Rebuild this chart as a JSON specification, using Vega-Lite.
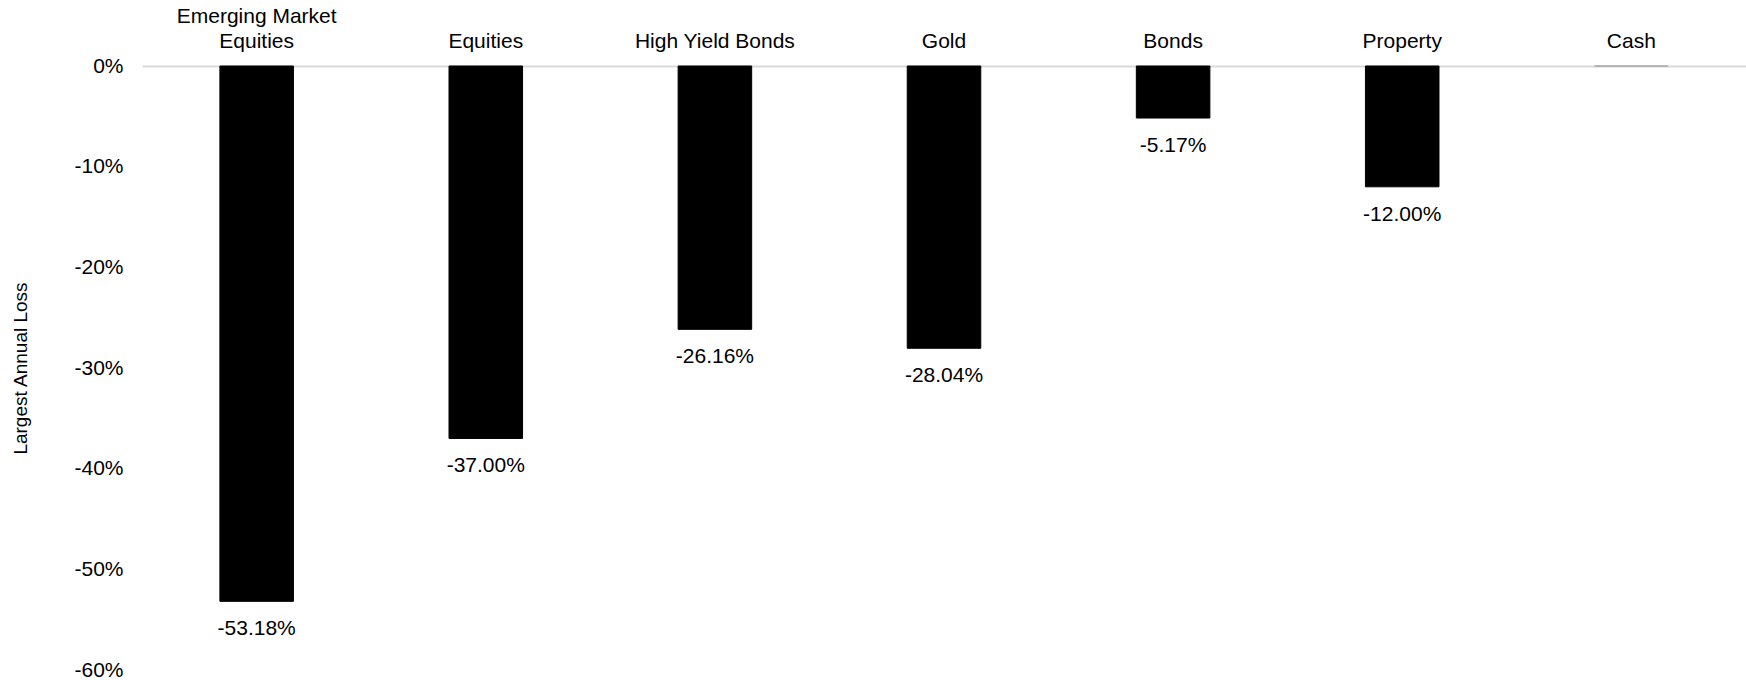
{
  "$schema": "https://vega.github.io/schema/vega-lite/v6.json",
  "autosize": {"type": "none"},
  "padding": {"left": 142, "top": 66, "right": 0, "bottom": 10},
  "width": 1604,
  "height": 604,
  "background": "white",
  "config": {
    "view": {"stroke": null},
    "font": "Liberation Sans",
    "locale": {"number": {"decimal": ".", "thousands": ",", "grouping": [3], "currency": ["$", ""], "minus": "-"}},
    "axis": {"labelFont": "Liberation Sans", "titleFont": "Liberation Sans", "labelColor": "#000000", "titleColor": "#000000"}
  },
  "data": {
    "values": [
      {"asset": "Emerging Market Equities", "loss": -0.5318},
      {"asset": "Equities", "loss": -0.37},
      {"asset": "High Yield Bonds", "loss": -0.2616},
      {"asset": "Gold", "loss": -0.2804},
      {"asset": "Bonds", "loss": -0.0517},
      {"asset": "Property", "loss": -0.12},
      {"asset": "Cash", "loss": 0}
    ]
  },
  "encoding": {
    "x": {
      "field": "asset",
      "type": "nominal",
      "sort": null,
      "scale": {"paddingInner": 0.679, "paddingOuter": 0.34},
      "axis": {
        "orient": "top",
        "title": null,
        "ticks": false,
        "domainColor": "#d9d9d9",
        "domainWidth": 2,
        "labelAngle": 0,
        "labelFontSize": 21,
        "labelPadding": 40,
        "labelLineHeight": 25,
        "labelExpr": "datum.label == 'Emerging Market Equities' ? ['Emerging Market', 'Equities'] : ['', datum.label]"
      }
    },
    "y": {
      "field": "loss",
      "type": "quantitative",
      "scale": {"domain": [-0.6, 0], "nice": false, "zero": false},
      "axis": {
        "title": "Largest Annual Loss",
        "format": ".0%",
        "values": [0, -0.1, -0.2, -0.3, -0.4, -0.5, -0.6],
        "grid": false,
        "domain": false,
        "ticks": false,
        "labelFontSize": 21,
        "labelPadding": 19,
        "titleFontSize": 19,
        "titleFontWeight": "normal",
        "titleAngle": -90,
        "titleX": -122,
        "titleY": 302,
        "titleBaseline": "middle",
        "titleAlign": "center"
      }
    }
  },
  "layer": [
    {
      "mark": {"type": "bar", "strokeWidth": 1},
      "encoding": {
        "color": {
          "condition": {"test": "datum.asset == 'Cash'", "value": "#a6a6a6"},
          "value": "#000000"
        },
        "stroke": {
          "condition": {"test": "datum.asset == 'Cash'", "value": "#a6a6a6"},
          "value": "#000000"
        }
      }
    },
    {
      "transform": [{"filter": "datum.asset != 'Cash'"}],
      "mark": {"type": "text", "baseline": "top", "dy": 17, "fontSize": 21, "color": "#000000", "font": "Liberation Sans"},
      "encoding": {
        "text": {"field": "loss", "type": "quantitative", "format": ".2%"}
      }
    }
  ]
}
